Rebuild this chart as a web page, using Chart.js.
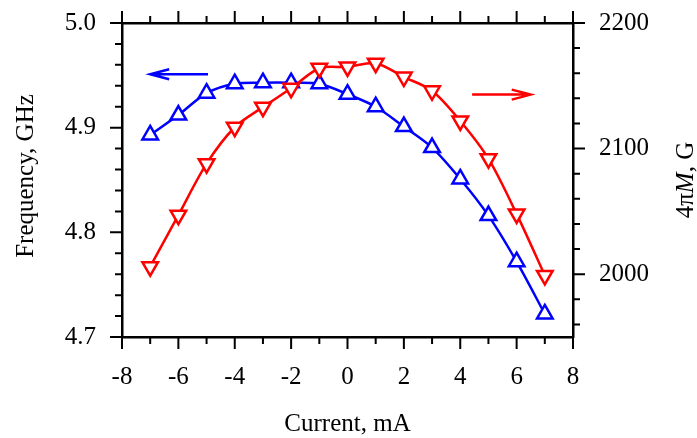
<!DOCTYPE html>
<html>
<head>
<meta charset="utf-8">
<script src="https://cdn.jsdelivr.net/npm/chart.js@4.4.1/dist/chart.umd.min.js"></script>
<style>
  html, body { margin: 0; padding: 0; background: #fff; }
  canvas { display: block; }
</style>
</head>
<body>
<canvas id="chart" width="697" height="438"></canvas>
<script>
// data
const current = [-7, -6, -5, -4, -3, -2, -1, 0, 1, 2, 3, 4, 5, 6, 7];
const frequency = [4.893, 4.912, 4.933, 4.942, 4.943, 4.943, 4.942, 4.932, 4.920, 4.901, 4.881, 4.851, 4.816, 4.772, 4.722];
const magnetization = [2006, 2047, 2088, 2117, 2133, 2148, 2164, 2165, 2168, 2157, 2146, 2122, 2092, 2048, 1999];

const xTicks = [-8, -6, -4, -2, 0, 2, 4, 6, 8];
const freqTicks = [4.7, 4.8, 4.9, 5.0];
const magTicks = [2000, 2100, 2200];

// arrows telling which axis each curve belongs to (data coords)
const freqArrow = { from: [-4.95, 4.951], to: [-7, 4.951] };
const magArrow = { from: [4.42, 2143], to: [6.5, 2143] };

const FONT = '"Liberation Serif", "Times New Roman", serif';
const BLUE = '#0000ff', RED = '#ff0000';

function fixTicks(list) {
  return s => { s.ticks = list.map(v => ({ value: v })); };
}

// fixed box sizes so the plot area lands where the reference has it
function fitBox(w, h) {
  return s => {
    if (w != null) s.width = w;
    if (h != null) s.height = h;
    s.paddingTop = s.paddingBottom = s.paddingLeft = s.paddingRight = 0;
  };
}

function tickMarks(ctx, scale, step, majors, side, area) {
  const start = Math.ceil(scale.min / step - 1e-9) * step;
  ctx.beginPath();
  for (let v = start; v <= scale.max + step / 100; v += step) {
    const major = majors.some(m => Math.abs(m - v) < step / 10);
    const len = major ? 12 : 7;
    const p = scale.getPixelForValue(v);
    if (side === 'bottom') { ctx.moveTo(p, area.bottom); ctx.lineTo(p, area.bottom + len); }
    if (side === 'top') { ctx.moveTo(p, area.top); ctx.lineTo(p, area.top - len); }
    if (side === 'left') { ctx.moveTo(area.left, p); ctx.lineTo(area.left - len, p); }
    if (side === 'right') { ctx.moveTo(area.right, p); ctx.lineTo(area.right + len, p); }
  }
  ctx.stroke();
}

function arrow(ctx, x1, y1, x2, y2, color) {
  const dir = Math.sign(x2 - x1);
  ctx.strokeStyle = color;
  ctx.lineWidth = 2.5;
  ctx.beginPath();
  ctx.moveTo(x1, y1); ctx.lineTo(x2, y2);
  ctx.moveTo(x2 - dir * 19, y2 - 5); ctx.lineTo(x2, y2); ctx.lineTo(x2 - dir * 19, y2 + 5);
  ctx.stroke();
}

const decorations = {
  id: 'decorations',
  afterDraw(chart) {
    const { ctx, chartArea: area, scales } = chart;
    ctx.save();
    ctx.strokeStyle = '#000';
    ctx.lineWidth = 2;
    tickMarks(ctx, scales.x, 1, xTicks, 'bottom', area);
    tickMarks(ctx, scales.x, 1, xTicks, 'top', area);
    tickMarks(ctx, scales.y, 0.02, freqTicks, 'left', area);
    tickMarks(ctx, scales.y2, 20, magTicks, 'right', area);

    const fx = scales.x, fy = scales.y, my = scales.y2;
    arrow(ctx, fx.getPixelForValue(freqArrow.from[0]), fy.getPixelForValue(freqArrow.from[1]),
      fx.getPixelForValue(freqArrow.to[0]), fy.getPixelForValue(freqArrow.to[1]), BLUE);
    arrow(ctx, fx.getPixelForValue(magArrow.from[0]), my.getPixelForValue(magArrow.from[1]),
      fx.getPixelForValue(magArrow.to[0]), my.getPixelForValue(magArrow.to[1]), RED);

    // axis titles
    ctx.fillStyle = '#000';
    ctx.font = '25px ' + FONT;
    ctx.textBaseline = 'alphabetic';
    ctx.textAlign = 'center';
    ctx.fillText('Current, mA', (area.left + area.right) / 2, 431);

    ctx.save();
    ctx.translate(33, 176);
    ctx.rotate(-Math.PI / 2);
    ctx.fillText('Frequency, GHz', 0, 0);
    ctx.restore();

    // right title with italic M
    const parts = [['4\u03c0', ''], ['M', 'italic '], [', G', '']];
    let total = 0;
    parts.forEach(p => { ctx.font = p[1] + '25px ' + FONT; total += ctx.measureText(p[0]).width; });
    ctx.save();
    ctx.translate(693, 180);
    ctx.rotate(-Math.PI / 2);
    ctx.textAlign = 'left';
    let px = -total / 2;
    parts.forEach(p => {
      ctx.font = p[1] + '25px ' + FONT;
      ctx.fillText(p[0], px, 0);
      px += ctx.measureText(p[0]).width;
    });
    ctx.restore();
    ctx.restore();
  }
};

const tickFont = { family: FONT, size: 25 };
const border = { display: true, color: '#000', width: 2.5 };
const noGrid = { display: false, drawTicks: false };

new Chart(document.getElementById('chart'), {
  type: 'line',
  data: {
    datasets: [{
      label: '4πM',
      data: current.map((x, i) => ({ x, y: magnetization[i] })),
      yAxisID: 'y2',
      order: 0,
      borderColor: RED, borderWidth: 2.5, tension: 0.3,
      pointStyle: 'triangle', rotation: 180, pointRadius: 9,
      pointBorderWidth: 2.5, pointBorderColor: RED, pointBackgroundColor: '#fff'
    }, {
      label: 'Frequency',
      data: current.map((x, i) => ({ x, y: frequency[i] })),
      yAxisID: 'y',
      order: 1,
      borderColor: BLUE, borderWidth: 2.5, tension: 0.3,
      pointStyle: 'triangle', pointRadius: 9,
      pointBorderWidth: 2.5, pointBorderColor: BLUE, pointBackgroundColor: '#fff'
    }]
  },
  options: {
    responsive: false,
    animation: false,
    devicePixelRatio: 1,
    layout: { padding: 0 },
    plugins: { legend: { display: false }, tooltip: { enabled: false } },
    scales: {
      x: {
        type: 'linear', position: 'bottom', min: -8, max: 8,
        afterBuildTicks: fixTicks(xTicks),
        afterFit: fitBox(null, 101),
        grid: noGrid, border,
        ticks: { font: tickFont, color: '#000', padding: 25, maxRotation: 0, callback: v => String(v) }
      },
      xTop: {
        type: 'linear', position: 'top', min: -8, max: 8,
        afterFit: fitBox(null, 23),
        grid: noGrid, border,
        ticks: { display: false }
      },
      y: {
        type: 'linear', position: 'left', min: 4.7, max: 5.0,
        afterBuildTicks: fixTicks(freqTicks),
        afterFit: fitBox(122, null),
        grid: noGrid, border,
        ticks: { font: tickFont, color: '#000', padding: 26, callback: v => v.toFixed(1) }
      },
      y2: {
        type: 'linear', position: 'right', min: 1950, max: 2200,
        afterBuildTicks: fixTicks(magTicks),
        afterFit: fitBox(124, null),
        grid: noGrid, border,
        ticks: { font: tickFont, color: '#000', padding: 26, callback: v => String(v) }
      }
    }
  },
  plugins: [decorations]
});
</script>
</body>
</html>
